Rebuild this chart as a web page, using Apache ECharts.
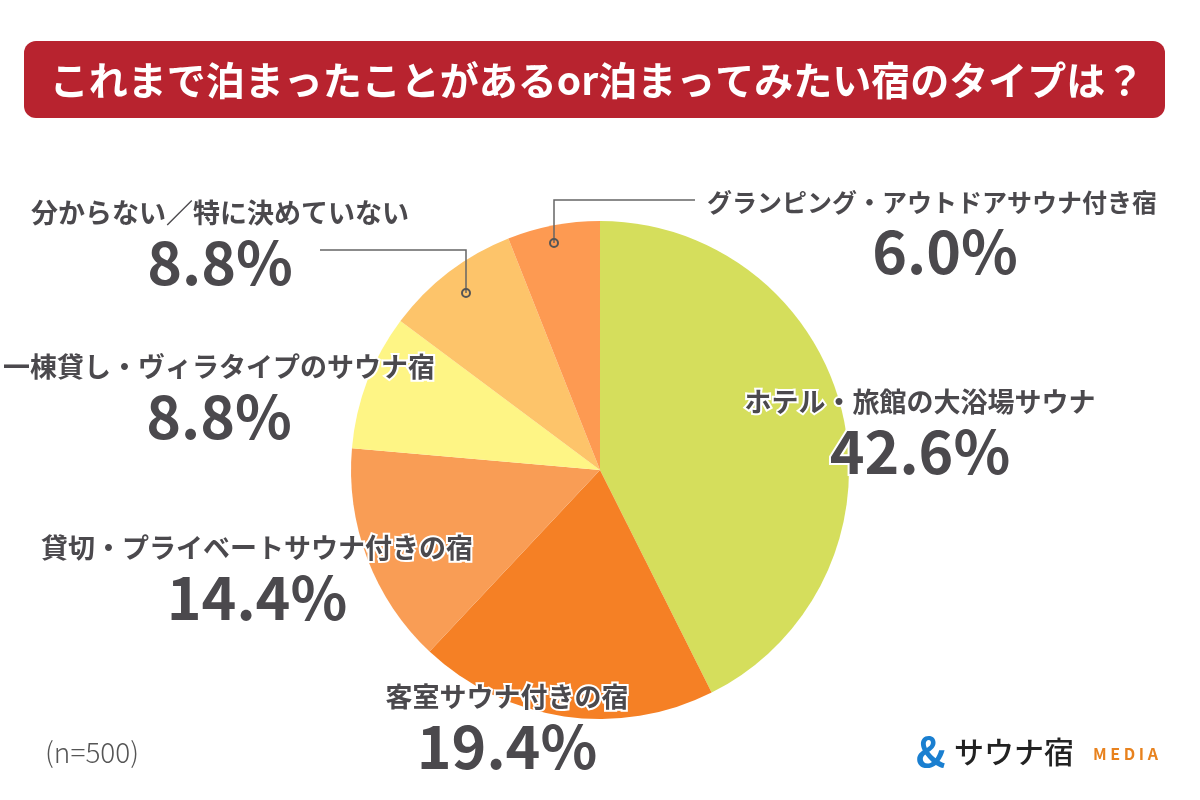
<!DOCTYPE html>
<html>
<head>
<meta charset="utf-8">
<script src="https://cdn.jsdelivr.net/npm/echarts@6/dist/echarts.min.js"></script>
<style>
html,body{margin:0;padding:0;background:#fff;}
#main{width:1200px;height:800px;}
</style>
</head>
<body>
<div id="main"></div>
<script>
// ---- data ----
var titleText = 'これまで泊まったことがあるor泊まってみたい宿のタイプは？';
var categories = [
  'ホテル・旅館の大浴場サウナ',
  '客室サウナ付きの宿',
  '貸切・プライベートサウナ付きの宿',
  '一棟貸し・ヴィラタイプのサウナ宿',
  '分からない／特に決めていない',
  'グランピング・アウトドアサウナ付き宿'
];
var values = [42.6, 19.4, 14.4, 8.8, 8.8, 6.0];
var sampleNote = '(n=500)';

// ---- styling / layout ----
var colors = ['#d5de5c', '#f58025', '#f99d55', '#fef585', '#fdc46a', '#fd9a52'];
// label name-line centres [x, y]
var labelPos = [[920, 402], [507, 697], [257, 548], [219, 367], [220, 213], [932, 202]];
// per-label style keys (name, value)
var labelKeys = [['n', 'v'], ['n', 'v'], ['n', 'v'], ['n', 'v'], ['n', 'v'], ['ns', 'vs']];
var textColor = '#4b494d';
var font = '"Noto Sans CJK JP", "Noto Sans", sans-serif';

var chart = echarts.init(document.getElementById('main'));

var data = categories.map(function (c, i) {
  return { name: c, value: values[i], itemStyle: { color: colors[i] } };
});

function txt(size, lh, extra) {
  var o = { fontFamily: font, fontWeight: 'bold', fontSize: size, color: textColor, lineHeight: lh, align: 'center', textBorderColor: '#ffffff', textBorderWidth: 4 };
  if (extra) { for (var k in extra) o[k] = extra[k]; }
  return o;
}
var rich = {
  n: txt(27, 44),
  ns: txt(25, 44),
  v: txt(59, 56),
  vs: txt(59, 56, { padding: [0, 0, 0, 26] })
};

chart.setOption({
  animation: false,
  backgroundColor: '#ffffff',
  graphic: [
    { type: 'rect', shape: { x: 24, y: 41, width: 1141, height: 77, r: 12 }, style: { fill: '#b8232f' }, z: 1 },
    { type: 'text', x: 597, y: 80, style: { text: titleText, fill: '#ffffff', font: 'bold 39px ' + font, textAlign: 'center', textVerticalAlign: 'middle' }, z: 2 },
    { type: 'text', x: 45, y: 752, style: { text: sampleNote, fill: '#555555', font: '300 28px ' + font, textAlign: 'left', textVerticalAlign: 'middle' } },
    // leader lines
    { type: 'polyline', shape: { points: [[554, 243], [554, 200], [695, 200]] }, style: { stroke: '#666', lineWidth: 1.5, fill: null }, z: 10 },
    { type: 'circle', shape: { cx: 554, cy: 243, r: 4 }, style: { stroke: '#555', lineWidth: 2, fill: null }, z: 11 },
    { type: 'polyline', shape: { points: [[466, 293], [466, 250], [320, 250]] }, style: { stroke: '#666', lineWidth: 1.5, fill: null }, z: 10 },
    { type: 'circle', shape: { cx: 466, cy: 293, r: 4 }, style: { stroke: '#555', lineWidth: 2, fill: null }, z: 11 },
    // logo
    { type: 'text', x: 916, y: 752, style: { text: '&', fill: '#1a7fd0', font: 'bold 40px ' + font, textAlign: 'left', textVerticalAlign: 'middle' } },
    { type: 'text', x: 954, y: 752, style: { text: 'サウナ宿', fill: '#222222', font: '500 30px ' + font, textAlign: 'left', textVerticalAlign: 'middle' } },
    { type: 'text', x: 1093, y: 754, style: { text: 'M E D I A', fill: '#e8821e', font: '600 16px ' + font, textAlign: 'left', textVerticalAlign: 'middle' } }
  ],
  series: [{
    type: 'pie',
    center: [600, 470],
    radius: 249,
    startAngle: 90,
    clockwise: true,
    silent: true,
    data: data,
    label: {
      show: true,
      position: 'inside',
      formatter: function (p) {
        var k = labelKeys[p.dataIndex];
        return '{' + k[0] + '|' + p.name + '}\n{' + k[1] + '|' + p.value.toFixed(1) + '%}';
      },
      rich: rich
    },
    labelLine: { show: false },
    labelLayout: function (params) {
      var p = labelPos[params.dataIndex];
      return { x: p[0], y: p[1] - 22, align: 'center', verticalAlign: 'top' };
    }
  }]
});
</script>
</body>
</html>
